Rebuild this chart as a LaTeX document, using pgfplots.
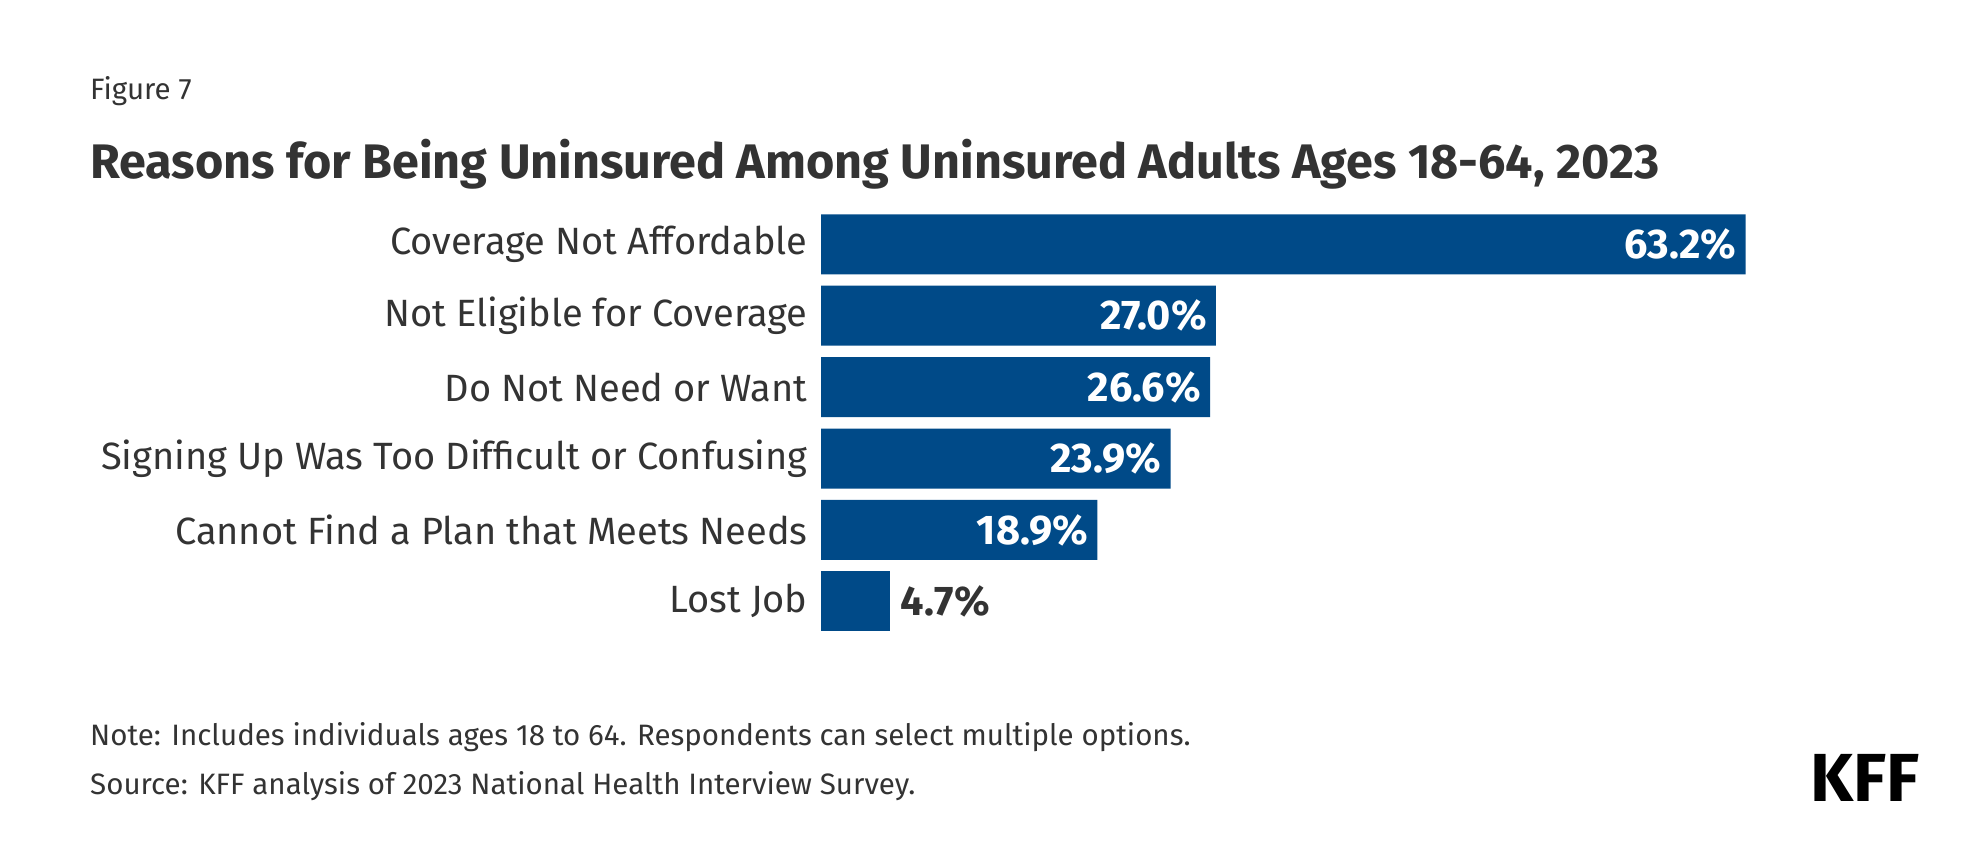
\documentclass[border=0pt]{standalone}
\usepackage{pgfplots}
\pgfplotsset{compat=1.18}
\usepackage{pgfplotstable}
\usepackage{fontspec}
\setmainfont{Fira Sans}

\definecolor{kffblue}{HTML}{004A88}
\definecolor{kfftext}{HTML}{333333}

% Share of uninsured adults citing each reason (percent)
\pgfplotstableread{
pos val
0 63.2
1 27.0
2 26.6
3 23.9
4 18.9
}\insidebars
\pgfplotstableread{
pos val
5 4.7
}\outsidebars

\begin{document}
\begin{tikzpicture}
\path[use as bounding box] (0pt,0pt) rectangle (1970pt,860pt);

\node[anchor=base west, inner sep=0pt, text=kfftext, font=\fontsize{29.5}{34}\selectfont]
  at (90pt,760pt) {Figure 7};
\node[anchor=base west, inner sep=0pt, text=kfftext, font=\fontsize{48.5}{56}\selectfont\bfseries]
  at (90pt,681pt) {Reasons for Being Uninsured Among Uninsured Adults Ages 18-64, 2023};

\begin{axis}[
  at={(821pt,223pt)}, anchor=south west,
  scale only axis, width=1024.1pt, height=428.4pt,
  xmin=0, xmax=70, ymin=-0.5, ymax=5.5, y dir=reverse,
  axis line style={draw=none}, tick style={draw=none},
  xtick=\empty,
  ytick={0,1,2,3,4,5},
  yticklabels={Coverage Not Affordable, Not Eligible for Coverage, Do Not Need or Want,
    Signing Up Was Too Difficult or Confusing, Cannot Find a Plan that Meets Needs, Lost Job},
  yticklabel style={inner sep=0pt, anchor=east, xshift=-9pt, text=kfftext,
    font=\fontsize{38}{44}\selectfont},
  /pgf/number format/assume math mode=true,
  xbar, bar width=60pt, bar shift=0pt,
  clip=false,
]
\addplot[fill=kffblue, draw=none,
  nodes near coords={\pgfmathprintnumber[fixed,fixed zerofill,precision=1]{\pgfplotspointmeta}\%},
  nodes near coords style={anchor=east, inner sep=0pt, xshift=-9pt, text=white,
    font=\fontsize{41.5}{48}\selectfont\bfseries}]
  table[x=val, y=pos] {\insidebars};
\addplot[fill=kffblue, draw=none,
  nodes near coords={\pgfmathprintnumber[fixed,fixed zerofill,precision=1]{\pgfplotspointmeta}\%},
  nodes near coords style={anchor=west, inner sep=0pt, xshift=11pt, text=kfftext,
    font=\fontsize{41.5}{48}\selectfont\bfseries}]
  table[x=val, y=pos] {\outsidebars};
\end{axis}

\node[anchor=base west, inner sep=0pt, text=kfftext, font=\fontsize{29.5}{34}\selectfont]
  at (90pt,114.3pt) {Note: Includes individuals ages 18 to 64. Respondents can select multiple options.};
\node[anchor=base west, inner sep=0pt, text=kfftext, font=\fontsize{29.5}{34}\selectfont]
  at (90pt,66pt) {Source: KFF analysis of 2023 National Health Interview Survey.};
\node[anchor=base east, inner sep=0pt, text=black, font=\fontsize{68}{72}\selectfont\bfseries]
  at (1920pt,59pt) {KFF};
\end{tikzpicture}
\end{document}
